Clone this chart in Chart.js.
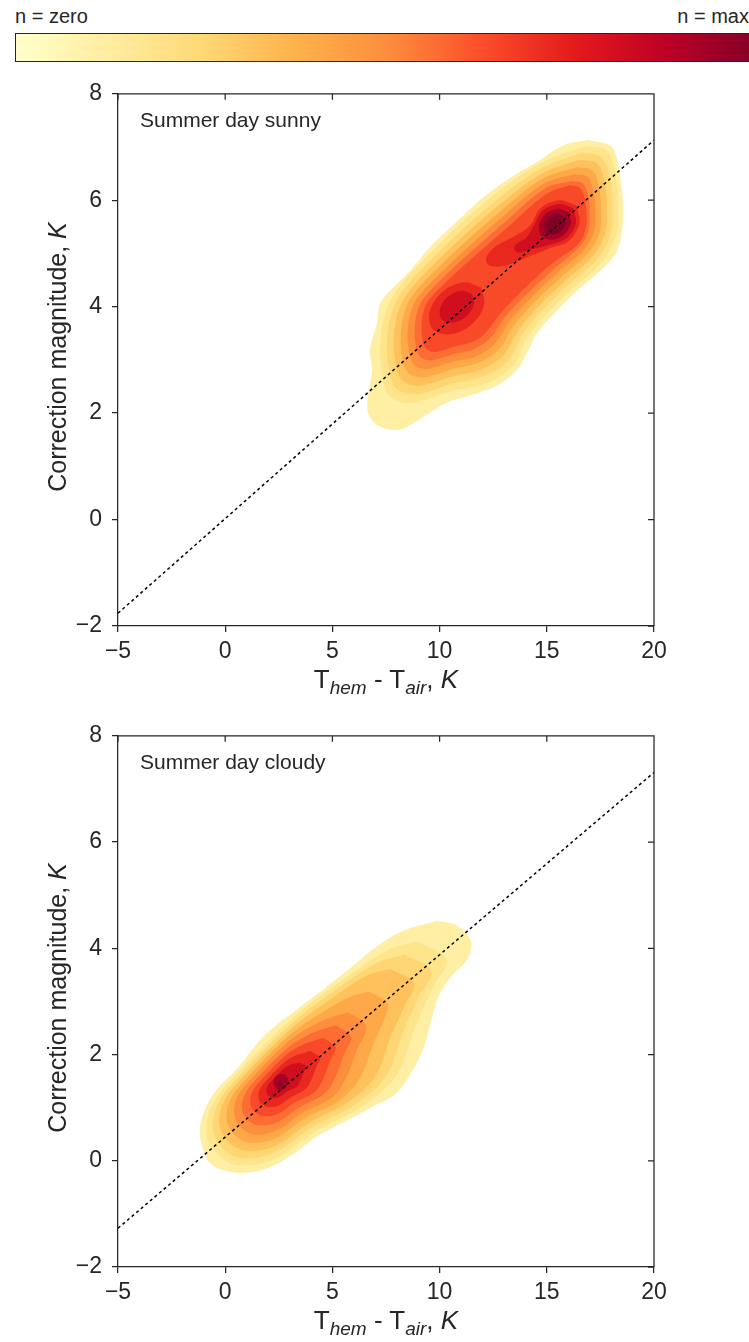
<!DOCTYPE html>
<html>
<head>
<meta charset="utf-8">
<script src="https://cdn.jsdelivr.net/npm/chart.js@4.4.0/dist/chart.umd.min.js"></script>
<style>
  body { margin: 0; background: #fff; }
  #wrap { position: relative; width: 749px; height: 1342px; overflow: hidden;
          font-family: "Liberation Sans", Arial, sans-serif; color: #262626; }
  canvas { position: absolute; left: 0; }
  .lbl { position: absolute; white-space: nowrap; }
  .xt { left: 118px; width: 536px; text-align: center; font-size: 26px; line-height: 26px; }
  .yt { left: -143px; width: 400px; height: 26px; text-align: center; font-size: 25px; line-height: 26px;
        transform: rotate(-90deg); }
  .note { left: 140px; font-size: 21px; line-height: 21px; }
  .xt sub { font-size: 19px; font-style: italic; vertical-align: -6px; line-height: 0; }
  #cbar { position: absolute; left: 15px; top: 33px; width: 745px; height: 27px; border: 1px solid #262626;
          background: linear-gradient(to right, #ffffcc, #ffeda0, #fed976, #feb24c, #fd8d3c, #fc4e2a, #e31a1c, #bd0026, #800026); }
</style>
</head>
<body>
<div id="wrap">
  <div class="lbl" style="left:15px; top:6px; font-size:20px; line-height:20px">n = zero</div>
  <div class="lbl" style="right:0; top:6px; font-size:20px; line-height:20px">n = max</div>
  <div id="cbar"></div>

  <canvas id="sunny" width="749" height="600" style="top:70px"></canvas>
  <canvas id="cloudy" width="749" height="600" style="top:712px"></canvas>

  <div class="lbl note" style="top:109px">Summer day sunny</div>
  <div class="lbl note" style="top:751px">Summer day cloudy</div>

  <div class="lbl xt" style="top:666px">T<sub>hem</sub> - T<sub>air</sub>, <i>K</i></div>
  <div class="lbl xt" style="top:1307px">T<sub>hem</sub> - T<sub>air</sub>, <i>K</i></div>
  <div class="lbl yt" style="top:344px">Correction magnitude, <i>K</i></div>
  <div class="lbl yt" style="top:985px">Correction magnitude, <i>K</i></div>
</div>

<script>
// axis ranges
const xRange = [-5, 20];
const yRange = [-2, 8];
const xStep = 5;
const yStep = 2;

// dotted reference lines
const fitX = [-5, 20];
const sunnyFitY = [-1.76, 7.13];
const cloudyFitY = [-1.27, 7.31];

// density contours, sunny day (outer -> inner), [x, y]
const sunnyL1 = [[16.87,7.13],[17.95,7.03],[18.27,6.79],[18.51,6.16],[18.55,5.60],[18.27,5.04],[17.48,4.67],[16.41,4.30],[15.48,3.93],[14.54,3.50],[14.08,3.13],[13.61,2.81],[12.68,2.52],[11.42,2.33],[10.35,2.20],[9.55,2.01],[8.62,1.77],[8.01,1.68],[7.08,1.77],[6.66,2.01],[6.66,2.33],[6.85,2.81],[6.75,3.19],[7.08,3.69],[7.22,4.06],[7.69,4.30],[8.62,4.67],[9.55,5.12],[10.81,5.60],[12.02,6.05],[13.28,6.42],[14.54,6.72],[15.76,7.03]];
const sunnyL2 = [[16.77,7.02],[17.77,6.94],[18.20,6.50],[18.33,5.89],[18.24,5.35],[17.55,4.82],[16.27,4.36],[15.01,3.87],[14.06,3.39],[13.43,2.89],[12.24,2.57],[10.53,2.41],[9.41,2.26],[8.48,2.19],[7.64,2.33],[7.31,2.74],[7.22,3.26],[7.45,3.86],[7.99,4.31],[9.69,5.06],[12.17,5.98],[14.60,6.67]];
const sunnyL3 = [[16.64,6.89],[17.55,6.81],[17.95,6.41],[18.06,5.86],[17.98,5.37],[17.35,4.89],[16.10,4.44],[14.84,3.95],[13.87,3.48],[13.21,2.99],[12.11,2.70],[10.56,2.55],[9.54,2.41],[8.69,2.35],[7.93,2.48],[7.62,2.85],[7.54,3.32],[7.75,3.87],[8.24,4.28],[9.85,4.98],[12.34,5.90],[14.66,6.58]];
const sunnyL4 = [[16.52,6.76],[17.34,6.69],[17.69,6.33],[17.80,5.83],[17.73,5.39],[17.16,4.95],[15.93,4.51],[14.67,4.03],[13.68,3.56],[12.99,3.09],[11.98,2.82],[10.58,2.69],[9.66,2.57],[8.90,2.51],[8.21,2.63],[7.94,2.96],[7.87,3.39],[8.05,3.88],[8.50,4.25],[10.02,4.91],[12.51,5.82],[14.72,6.49]];
const sunnyL5 = [[16.39,6.62],[17.12,6.56],[17.44,6.24],[17.53,5.80],[17.47,5.40],[16.96,5.02],[15.77,4.59],[14.49,4.11],[13.48,3.65],[12.77,3.20],[11.85,2.95],[10.61,2.83],[9.79,2.72],[9.11,2.67],[8.50,2.77],[8.25,3.07],[8.19,3.45],[8.36,3.89],[8.75,4.22],[10.18,4.83],[12.69,5.74],[14.78,6.40]];
const sunnyL6 = [[16.27,6.49],[16.91,6.44],[17.18,6.16],[17.27,5.77],[17.21,5.42],[16.77,5.08],[15.60,4.67],[14.32,4.19],[13.29,3.74],[12.56,3.30],[11.73,3.07],[10.63,2.97],[9.91,2.88],[9.32,2.83],[8.78,2.92],[8.57,3.18],[8.51,3.52],[8.66,3.90],[9.01,4.19],[10.35,4.75],[12.86,5.66],[14.85,6.31]];
const sunnyL7 = [[16.14,6.36],[16.69,6.31],[16.93,6.07],[17.00,5.74],[16.95,5.44],[16.57,5.15],[15.43,4.74],[14.15,4.27],[13.10,3.83],[12.34,3.40],[11.60,3.20],[10.66,3.11],[10.04,3.03],[9.53,2.99],[9.07,3.07],[8.88,3.29],[8.84,3.58],[8.96,3.91],[9.26,4.16],[10.51,4.68],[13.03,5.58],[14.92,6.22]];
const sunnyL8 = [[16.05,6.28],[16.55,6.23],[16.78,6.01],[16.86,5.71],[16.80,5.44],[16.45,5.17],[15.26,4.82],[13.98,4.35],[12.91,3.91],[12.12,3.50],[11.47,3.33],[10.68,3.25],[10.17,3.18],[9.74,3.15],[9.35,3.22],[9.20,3.40],[9.16,3.64],[9.26,3.92],[9.51,4.13],[10.67,4.60],[13.20,5.50],[15.00,6.12]];
const sunnyL9A = [[11.94,4.36],[12.08,4.03],[11.48,3.66],[10.49,3.48],[9.68,3.58],[9.54,3.91],[10.14,4.28],[11.13,4.46]];
const sunnyL9B = [[16.37,5.90],[16.53,5.57],[16.04,5.24],[15.14,5.10],[14.22,4.95],[13.05,4.77],[12.35,4.77],[12.16,4.90],[12.58,5.12],[13.66,5.36],[14.23,5.53],[14.72,5.86],[15.62,6.00]];
const sunnyL10A = [[11.51,4.24],[11.60,4.04],[11.23,3.81],[10.61,3.70],[10.11,3.76],[10.02,3.96],[10.39,4.19],[11.01,4.30]];
const sunnyL10B = [[16.22,5.85],[16.36,5.57],[15.94,5.29],[15.18,5.17],[14.30,5.08],[13.60,5.02],[13.50,5.14],[14.05,5.30],[14.40,5.53],[14.82,5.81],[15.58,5.93]];
const sunnyL11 = [[16.01,5.77],[16.12,5.57],[15.80,5.35],[15.23,5.26],[14.75,5.33],[14.64,5.53],[14.96,5.75],[15.53,5.84]];
const sunnyL12 = [[15.80,5.70],[15.87,5.56],[15.66,5.42],[15.28,5.36],[14.96,5.40],[14.89,5.54],[15.10,5.68],[15.48,5.74]];

// density contours, cloudy day (outer -> inner), [x, y]
const cloudyL1 = [[9.88,4.52],[10.81,4.43],[11.46,4.13],[11.32,3.81],[10.49,3.44],[9.93,3.07],[9.65,2.70],[9.23,2.10],[8.62,1.62],[7.92,1.25],[6.75,0.99],[5.59,0.74],[4.33,0.47],[3.26,0.15],[2.18,-0.11],[1.16,-0.22],[0.13,-0.20],[-0.71,-0.04],[-1.08,0.28],[-1.18,0.61],[-0.94,0.97],[-0.48,1.30],[0.55,1.73],[1.76,2.33],[3.35,2.85],[4.56,3.22],[5.96,3.67],[7.08,4.04],[8.29,4.33]];
const cloudyL2 = [[8.93,4.13],[10.31,3.79],[9.66,3.24],[8.91,2.57],[7.99,1.61],[6.42,1.03],[4.19,0.55],[2.21,0.02],[0.33,-0.06],[-0.79,0.38],[-0.66,1.01],[0.71,1.71],[3.29,2.74],[5.61,3.44],[7.55,3.96]];
const cloudyL3 = [[8.35,3.88],[9.60,3.58],[9.03,3.08],[8.35,2.48],[7.51,1.60],[6.09,1.07],[4.05,0.63],[2.25,0.15],[0.53,0.07],[-0.49,0.47],[-0.37,1.05],[0.88,1.69],[3.23,2.63],[5.34,3.27],[7.10,3.73]];
const cloudyL4 = [[7.70,3.61],[8.80,3.34],[8.36,2.91],[7.75,2.37],[6.99,1.58],[5.75,1.11],[3.91,0.71],[2.28,0.27],[0.72,0.21],[-0.20,0.57],[-0.09,1.09],[1.04,1.67],[3.17,2.52],[5.05,3.08],[6.58,3.48]];
const cloudyL5 = [[6.68,3.19],[7.56,2.97],[7.45,2.69],[6.94,2.23],[6.30,1.57],[5.38,1.15],[3.76,0.81],[2.32,0.42],[0.95,0.36],[0.13,0.68],[0.23,1.14],[1.23,1.65],[3.10,2.40],[4.67,2.83],[5.79,3.08]];
const cloudyL6 = [[5.73,2.79],[6.41,2.63],[6.58,2.47],[6.16,2.10],[5.64,1.56],[5.01,1.20],[3.60,0.90],[2.36,0.56],[1.17,0.51],[0.47,0.79],[0.55,1.19],[1.41,1.63],[3.04,2.28],[4.30,2.59],[5.05,2.71]];
const cloudyL7 = [[5.15,2.55],[5.70,2.41],[5.87,2.30],[5.53,1.99],[5.10,1.54],[4.59,1.25],[3.43,1.00],[2.40,0.72],[1.41,0.68],[0.83,0.91],[0.90,1.24],[1.62,1.61],[2.96,2.14],[3.99,2.39],[4.59,2.48]];
const cloudyL8 = [[4.57,2.31],[4.99,2.20],[5.16,2.12],[4.89,1.88],[4.56,1.53],[4.18,1.30],[3.26,1.10],[2.44,0.88],[1.66,0.85],[1.20,1.03],[1.25,1.29],[1.82,1.58],[2.89,2.01],[3.69,2.20],[4.14,2.26]];
const cloudyL9 = [[3.98,2.07],[4.28,1.99],[4.45,1.95],[4.26,1.77],[4.01,1.52],[3.76,1.35],[3.08,1.20],[2.48,1.04],[1.91,1.02],[1.57,1.15],[1.61,1.34],[2.03,1.56],[2.81,1.87],[3.39,2.00],[3.68,2.03]];
const cloudyL10 = [[3.47,1.85],[3.66,1.81],[3.78,1.78],[3.66,1.67],[3.50,1.51],[3.35,1.40],[2.91,1.31],[2.52,1.20],[2.16,1.19],[1.94,1.27],[1.96,1.40],[2.23,1.53],[2.74,1.73],[3.10,1.82],[3.28,1.83]];
const cloudyL11 = [[2.25,1.45],[2.45,1.33],[2.75,1.35],[2.95,1.47],[2.85,1.60],[2.55,1.63],[2.32,1.57]];
const cloudyL12 = [[2.45,1.42],[2.65,1.40],[2.58,1.52]];

const sunnyLevels = [[sunnyL1], [sunnyL2], [sunnyL3], [sunnyL4], [sunnyL5], [sunnyL6], [sunnyL7], [sunnyL8],
                     [sunnyL9A, sunnyL9B], [sunnyL10A, sunnyL10B], [sunnyL11], [sunnyL12]];
const cloudyLevels = [[cloudyL1], [cloudyL2], [cloudyL3], [cloudyL4], [cloudyL5], [cloudyL6], [cloudyL7], [cloudyL8],
                      [cloudyL9], [cloudyL10], [cloudyL11], [cloudyL12]];

// YlOrRd bands, outer -> inner
const levelColors = ['#ffefa5', '#fee48b', '#fed673', '#fec15b', '#fea848', '#fd8e3d',
                     '#fc6c33', '#f84a29', '#e8271f', '#cf0e20', '#a50026', '#800026'];

const INK = '#262626';
const FONT = '"Liberation Sans", Arial, sans-serif';

function closedPoints(poly) {
    const pts = poly.map(([x, y]) => ({ x, y }));
    pts.push({ x: poly[0][0], y: poly[0][1] });
    return pts;
}

function contourDatasets(levels) {
    const sets = [];
    levels.forEach((polys, i) => {
        polys.forEach(poly => {
            sets.push({
                data: closedPoints(poly),
                showLine: true,
                fill: 'shape',
                backgroundColor: levelColors[i],
                borderWidth: 0,
                pointRadius: 0,
                tension: 0.35,
                order: 50 - i
            });
        });
    });
    return sets;
}

function fitDataset(ys) {
    return {
        data: fitX.map((x, i) => ({ x, y: ys[i] })),
        showLine: true,
        fill: false,
        borderColor: '#000',
        borderWidth: 1.5,
        borderDash: [3, 3],
        pointRadius: 0,
        order: 0
    };
}

// top and right frame with inward ticks
const mirrorTicks = {
    id: 'mirrorTicks',
    afterDraw(chart) {
        const { ctx, chartArea: a, scales } = chart;
        ctx.save();
        ctx.strokeStyle = INK;
        ctx.lineWidth = 1.25;
        ctx.beginPath();
        ctx.moveTo(a.left, a.top);
        ctx.lineTo(a.right, a.top);
        ctx.lineTo(a.right, a.bottom);
        scales.x.ticks.forEach(t => {
            const px = scales.x.getPixelForValue(t.value);
            ctx.moveTo(px, a.top);
            ctx.lineTo(px, a.top + 6);
        });
        scales.y.ticks.forEach(t => {
            const py = scales.y.getPixelForValue(t.value);
            ctx.moveTo(a.right, py);
            ctx.lineTo(a.right - 6, py);
        });
        ctx.stroke();
        ctx.restore();
    }
};

function makeChart(id, levels, fitY, xAxisHeight) {
    const tickFont = { family: FONT, size: 23 };
    const axisGrid = { display: true, drawOnChartArea: false, drawTicks: true, tickLength: 6, color: INK, lineWidth: 1.25 };
    const axisBorder = { display: true, color: INK, width: 1.25 };
    return new Chart(document.getElementById(id), {
        type: 'scatter',
        data: { datasets: contourDatasets(levels).concat([fitDataset(fitY)]) },
        options: {
            responsive: false,
            animation: false,
            devicePixelRatio: 1,
            events: [],
            layout: { padding: { top: 18, right: 95, left: 0, bottom: 0 } },
            plugins: { legend: { display: false }, tooltip: { enabled: false } },
            scales: {
                x: {
                    type: 'linear', min: xRange[0], max: xRange[1],
                    ticks: { stepSize: xStep, color: INK, font: tickFont, padding: 6,
                             callback: v => String(v).replace('-', '\u2212') },
                    grid: axisGrid, border: axisBorder,
                    afterFit: s => { s.height = xAxisHeight; }
                },
                y: {
                    type: 'linear', min: yRange[0], max: yRange[1],
                    ticks: { stepSize: yStep, color: INK, font: tickFont, padding: 10,
                             callback: v => String(v).replace('-', '\u2212') },
                    grid: axisGrid, border: axisBorder,
                    afterFit: s => { s.width = 118; }
                }
            }
        },
        plugins: [mirrorTicks]
    });
}

makeChart('sunny', sunnyLevels, sunnyFitY, 44);
makeChart('cloudy', cloudyLevels, cloudyFitY, 45);
</script>
</body>
</html>
